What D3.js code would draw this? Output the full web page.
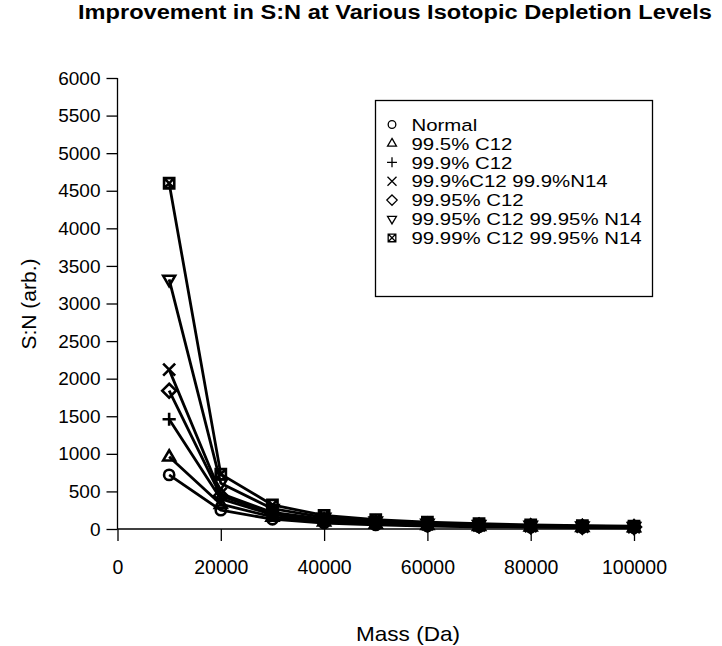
<!DOCTYPE html>
<html><head><meta charset="utf-8">
<script src="https://cdn.jsdelivr.net/npm/d3@7"></script>
<style>
body{margin:0;background:#fff;}
text{font-family:"Liberation Sans",Arial,Helvetica,sans-serif;fill:#000;}
</style></head>
<body><svg id="c" width="722" height="646"></svg>
<script>
const masses = [10000,20000,30000,40000,50000,60000,70000,80000,90000,100000];
const seriesNames = ["Normal","99.5% C12","99.9% C12","99.9%C12 99.9%N14","99.95% C12","99.95% C12 99.95% N14","99.99% C12 99.95% N14"];
const seriesShapes = ["circle","triUp","plus","cross","diamond","triDown","boxX"];
const normal     = [720, 250, 130, 80, 55, 40, 30, 25, 20, 16];
const c12_995    = [960, 330, 160, 95, 65, 50, 37, 30, 24, 20];
const c12_999    = [1460, 400, 190, 110, 75, 55, 42, 34, 27, 23];
const c12n14_999 = [2120, 470, 220, 130, 90, 65, 50, 40, 32, 27];
const c12_9995   = [1840, 440, 210, 120, 85, 60, 47, 37, 30, 25];
const c12n14_9995= [3320, 610, 270, 155, 105, 75, 58, 46, 37, 31];
const c12_9999n14= [4600, 730, 320, 180, 125, 90, 70, 55, 45, 37];
const seriesValues = [normal,c12_995,c12_999,c12n14_999,c12_9995,c12n14_9995,c12_9999n14];
const xTicks = [0,20000,40000,60000,80000,100000];
const yTicks = [0,500,1000,1500,2000,2500,3000,3500,4000,4500,5000,5500,6000];
const title = "Improvement in S:N at Various Isotopic Depletion Levels";
const xLabel = "Mass (Da)";
const yLabel = "S:N (arb.)";

const svg = d3.select("#c");
const x = d3.scaleLinear().domain([0,100000]).range([117.5,634]);
const y = d3.scaleLinear().domain([0,6000]).range([529,78]);

function drawMarker(g, shape, cx, cy, s, sw){
  const h = s/2;
  let el;
  if(shape==="circle"){
    el = g.append("circle").attr("cx",cx).attr("cy",cy).attr("r",h*0.85);
  } else if(shape==="triUp"){
    const r = h*1.1;
    el = g.append("path").attr("d",`M${cx},${cy-r}L${cx+r*0.9},${cy+r*0.55}L${cx-r*0.9},${cy+r*0.55}Z`);
  } else if(shape==="triDown"){
    const r = h*1.1;
    el = g.append("path").attr("d",`M${cx},${cy+r}L${cx+r*0.9},${cy-r*0.55}L${cx-r*0.9},${cy-r*0.55}Z`);
  } else if(shape==="plus"){
    el = g.append("path").attr("d",`M${cx-h*1.1},${cy}H${cx+h*1.1}M${cx},${cy-h*1.1}V${cy+h*1.1}`);
  } else if(shape==="cross"){
    el = g.append("path").attr("d",`M${cx-h},${cy-h}L${cx+h},${cy+h}M${cx-h},${cy+h}L${cx+h},${cy-h}`);
  } else if(shape==="diamond"){
    const r=h*1.15;
    el = g.append("path").attr("d",`M${cx},${cy-r}L${cx+r},${cy}L${cx},${cy+r}L${cx-r},${cy}Z`);
  } else if(shape==="boxX"){
    const r=h*0.85;
    el = g.append("path").attr("d",`M${cx-r},${cy-r}H${cx+r}V${cy+r}H${cx-r}ZM${cx-r},${cy-r}L${cx+r},${cy+r}M${cx-r},${cy+r}L${cx+r},${cy-r}`);
  }
  el.attr("stroke","#000").attr("stroke-width",sw).attr("fill","none").attr("stroke-linejoin","miter");
  return el;
}

// Title (stretched horizontally like the reference)
svg.append("text").attr("transform","translate(78,19) scale(1.125,1)")
  .attr("font-size",21).attr("font-weight","bold").text(title);

// Y axis
const ya = svg.append("g").attr("transform","translate(117.5,0)")
  .call(d3.axisLeft(y).tickValues(yTicks).tickSize(11).tickPadding(6).tickFormat(d3.format("d")));
ya.select(".domain").attr("d",`M0,${y(0)}V${y(6000)}`).attr("stroke-width",1.3);
ya.selectAll(".tick line").attr("stroke-width",1.3);
ya.selectAll(".tick text").attr("font-size",19).attr("font-family","Liberation Sans, Arial, sans-serif").attr("fill","#000");

// X axis
const xa = svg.append("g").attr("transform","translate(0,529)")
  .call(d3.axisBottom(x).tickValues(xTicks).tickSize(12).tickPadding(19).tickFormat(d3.format("d")));
xa.select(".domain").attr("d",`M${x(0)},0H${x(100000)}`).attr("stroke-width",1.3);
xa.selectAll(".tick line").attr("stroke-width",1.3);
xa.selectAll(".tick text").attr("font-size",19.5).attr("font-family","Liberation Sans, Arial, sans-serif").attr("fill","#000");

// axis labels
svg.append("text").attr("transform","translate(408,641) scale(1.1,1)").attr("text-anchor","middle").attr("font-size",20.5).text(xLabel);
svg.append("text").attr("transform","translate(36,304) rotate(-90)").attr("text-anchor","middle").attr("font-size",21).text(yLabel);

// series
const line = d3.line().x((d,i)=>x(masses[i])).y(d=>y(d));
const gS = svg.append("g");
seriesValues.forEach((vals)=>{
  gS.append("path").datum(vals).attr("d",line).attr("fill","none").attr("stroke","#000").attr("stroke-width",2.8).attr("stroke-linejoin","round");
});
seriesValues.forEach((vals,si)=>{
  vals.forEach((v,i)=>drawMarker(gS, seriesShapes[si], x(masses[i]), y(v), 12, 2.6));
});

// legend
const lg = svg.append("g");
lg.append("rect").attr("x",375.5).attr("y",100.5).attr("width",277).attr("height",196).attr("fill","#fff").attr("stroke","#000").attr("stroke-width",1.3);
seriesNames.forEach((n,i)=>{
  const cy = 124.5 + i*18.9;
  drawMarker(lg, seriesShapes[i], 392, cy, 9, 1.3);
  lg.append("text").attr("transform",`translate(411.5,${cy+6.2}) scale(1.2,1)`).attr("font-size",17).text(n);
});
</script></body></html>
